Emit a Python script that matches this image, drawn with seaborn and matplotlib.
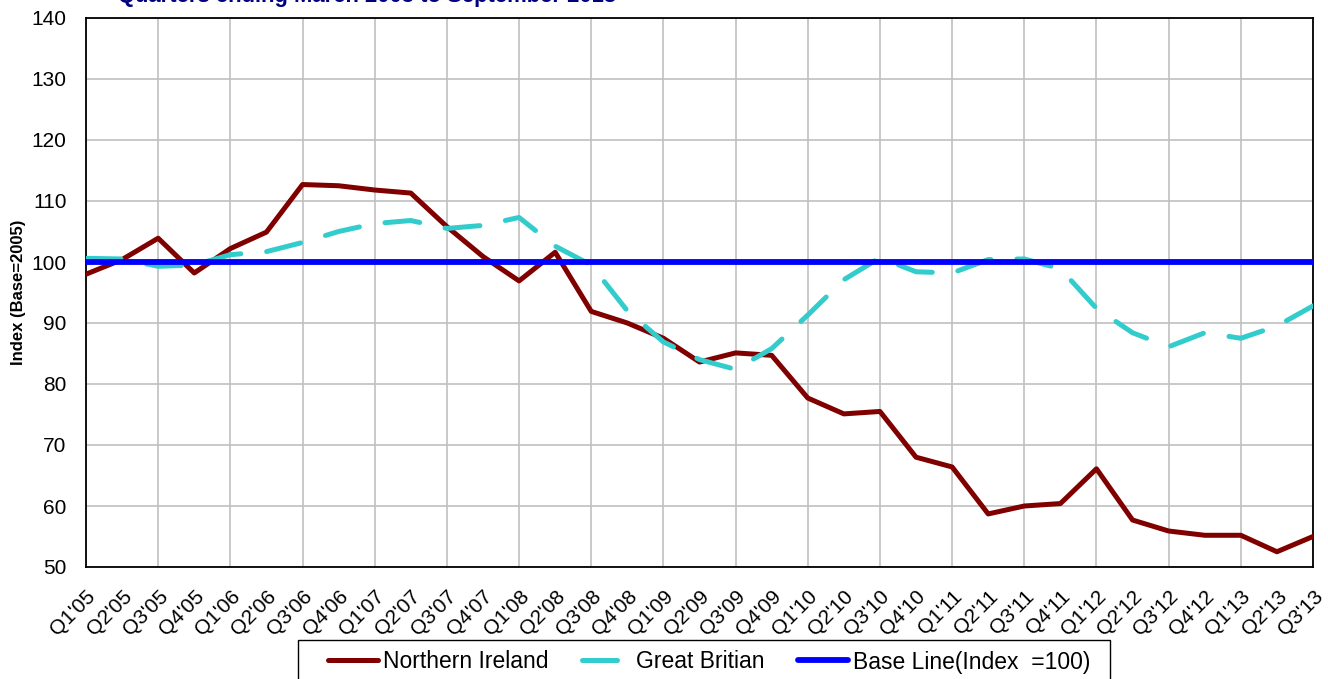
import numpy as np
import pandas as pd
import matplotlib
matplotlib.use("Agg")
import matplotlib.pyplot as plt
from matplotlib.patches import Rectangle
import seaborn as sns

quarters = ["Q1'05", "Q2'05", "Q3'05", "Q4'05", "Q1'06", "Q2'06", "Q3'06", "Q4'06",
            "Q1'07", "Q2'07", "Q3'07", "Q4'07", "Q1'08", "Q2'08", "Q3'08", "Q4'08",
            "Q1'09", "Q2'09", "Q3'09", "Q4'09", "Q1'10", "Q2'10", "Q3'10", "Q4'10",
            "Q1'11", "Q2'11", "Q3'11", "Q4'11", "Q1'12", "Q2'12", "Q3'12", "Q4'12",
            "Q1'13", "Q2'13", "Q3'13"]

northern_ireland = [98.0, 100.4, 103.9, 98.2, 102.2, 104.9, 112.7, 112.5,
                    111.8, 111.3, 105.8, 100.9, 96.9, 101.6, 91.9, 90.0,
                    87.5, 83.6, 85.1, 84.7, 77.7, 75.1, 75.5, 68.0,
                    66.4, 58.7, 60.0, 60.4, 66.1, 57.7, 55.9, 55.2,
                    55.2, 52.5, 55.0]

great_britain = [100.6, 100.5, 99.3, 99.5, 101.2, 101.7, 103.2, 105.0,
                 106.3, 106.8, 105.5, 106.0, 107.3, 102.6, 99.5, 92.0,
                 86.9, 84.0, 82.4, 85.8, 91.3, 97.1, 100.7, 98.4,
                 98.2, 100.4, 100.5, 98.9, 92.4, 88.4, 86.1, 88.4,
                 87.5, 89.5, 92.8]

base_line = [100.0] * len(quarters)

title_text = "Quarters ending March 2005 to September 2013"
y_label = "Index (Base=2005)"
series_names = ["Northern Ireland", "Great Britian", "Base Line(Index  =100)"]
y_ticks = [50, 60, 70, 80, 90, 100, 110, 120, 130, 140]

sns.set_style("white")
plt.rcParams["font.family"] = ["Liberation Sans", "DejaVu Sans"]
plt.rcParams["text.color"] = "black"
plt.rcParams["xtick.color"] = "black"
plt.rcParams["ytick.color"] = "black"
plt.rcParams["axes.labelcolor"] = "black"

x = np.arange(len(quarters))
df = pd.DataFrame({"x": x, "ni": northern_ireland, "gb": great_britain, "base": base_line})

W, H = 1328, 679
fig = plt.figure(figsize=(W / 100, H / 100), dpi=100)
ax = fig.add_axes([86 / W, 1 - 567 / H, (1313 - 86) / W, (567 - 18) / H])

sns.lineplot(data=df, x="x", y="ni", ax=ax, color="#800000", linewidth=3.6,
             label=series_names[0], solid_capstyle="round", zorder=3)
sns.lineplot(data=df, x="x", y="gb", ax=ax, color="#33CCCC", linewidth=3.6,
             label=series_names[1], dash_capstyle="round", zorder=4)
ax.lines[-1].set_dashes([7, 5.2])
sns.lineplot(data=df, x="x", y="base", ax=ax, color="#0000FF", linewidth=4.2,
             label=series_names[2], zorder=5)

ax.set_xlim(0, len(quarters) - 1)
ax.set_ylim(50, 140)
ax.set_yticks(y_ticks)
ax.set_yticklabels([str(v) for v in y_ticks], fontsize=15)

ax.xaxis.remove_overlapping_locs = False
ax.set_xticks(x[::2])
ax.set_xticklabels([""] * len(x[::2]))
ax.set_xticks(x, minor=True)
ax.set_xticklabels(quarters, minor=True, rotation=45, ha="right",
                   rotation_mode="anchor", fontsize=15)
ax.tick_params(axis="x", which="minor", length=0, pad=14)
ax.tick_params(axis="x", which="major", direction="in", length=5, width=1, color="black")
ax.tick_params(axis="y", direction="in", length=5, width=1, color="black", pad=14)

ax.grid(True, which="major", color="#C0C0C0", linewidth=1.2)
ax.set_axisbelow(True)
for s in ax.spines.values():
    s.set_color("black")
    s.set_linewidth(1.3)

ax.set_xlabel("")
ax.set_ylabel(y_label, fontsize=12, fontweight="bold", labelpad=4)

leg = ax.legend(loc="center left", bbox_to_anchor=(328 / W, 1 - 662 / H),
                bbox_transform=fig.transFigure, ncol=3, fontsize=16.5, frameon=False,
                handlelength=2.18, handletextpad=0.22, columnspacing=1.44,
                borderpad=0, borderaxespad=0)

fig.patches.append(Rectangle((298 / W, 1 - 700 / H), (1110 - 298) / W, 60 / H,
                             transform=fig.transFigure, fill=False,
                             edgecolor="black", linewidth=1.0))

fig.text(118 / W, 1 - 2 / H, title_text, color="#000080", fontsize=15.8,
         fontweight="bold", ha="left", va="baseline")

fig.savefig("out.png", dpi=100)
